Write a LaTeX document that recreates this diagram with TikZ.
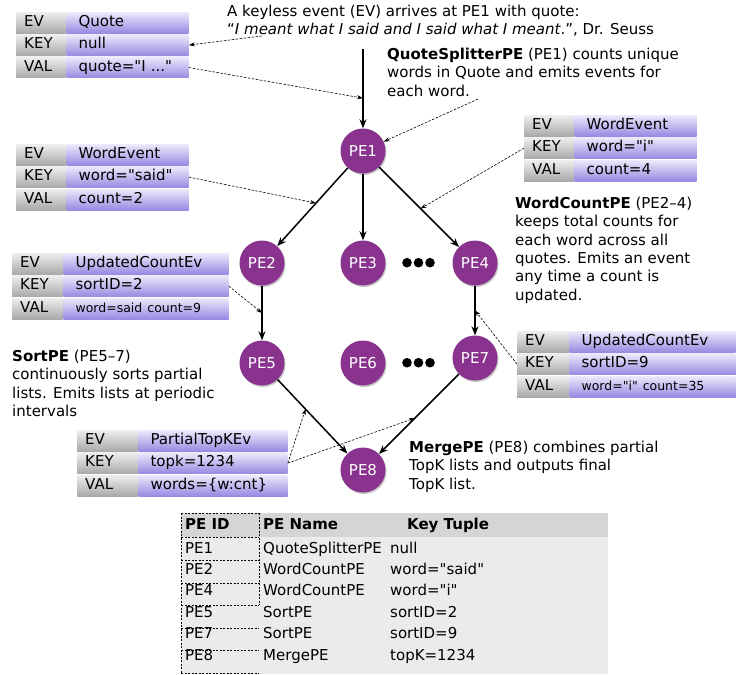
\documentclass[tikz,border=0pt]{standalone}
\usepackage{fontspec}
\setmainfont{DejaVu Sans}[Ligatures=TeXOff]
\usetikzlibrary{positioning,arrows.meta,shadows}

\definecolor{peviolet}{HTML}{8A338E}
\definecolor{labtop}{HTML}{EEEEEE}
\definecolor{labbot}{HTML}{A9A9A9}
\definecolor{valtop}{HTML}{ECE9FB}
\definecolor{valbot}{HTML}{968AE2}
\definecolor{tabhead}{HTML}{D5D5D5}
\definecolor{tabbody}{HTML}{EBEBEB}

\tikzset{
  pe/.style={circle, fill=peviolet, text=white, minimum size=45pt, inner sep=0pt,
    drop shadow={shadow xshift=1pt, shadow yshift=-1.5pt, opacity=0.45}},
  evlab/.style={anchor=north west, text width=#1, inner xsep=8pt, inner ysep=0pt,
    minimum height=21pt, text height=11pt, text depth=3.5pt,
    top color=labtop, bottom color=labbot},
  evval/.style={text width=#1, inner xsep=12pt, inner ysep=0pt,
    minimum height=21pt, text height=11pt, text depth=3.5pt,
    top color=valtop, bottom color=valbot},
  flow/.style={-{Stealth[length=9pt,width=7pt]}, line width=1.5pt},
  hint/.style={-{Stealth[length=6pt,width=4pt]}, line width=0.6pt, dash pattern=on 2.5pt off 1.5pt},
  note/.style={anchor=north west, align=left, inner sep=0pt},
  cell/.style={anchor=base west, inner sep=0pt},
  cellbox/.style={line width=0.6pt, dash pattern=on 2pt off 1.5pt}
}

\begin{document}
\begin{tikzpicture}[x=1pt,y=-1pt,font=\fontsize{15}{18.3}\selectfont]
  \useasboundingbox (0,0) rectangle (746,674);

  % processing elements
  \node[pe] (pe1) at (363,151) {PE1};
  \node[pe] (pe2) at (262,263) {PE2};
  \node[pe] (pe3) at (363,263) {PE3};
  \node[pe] (pe4) at (475,263) {PE4};
  \node[pe] (pe5) at (262,363) {PE5};
  \node[pe] (pe6) at (363,363) {PE6};
  \node[pe] (pe7) at (475,358) {PE7};
  \node[pe] (pe8) at (363,470) {PE8};
  \foreach \x in {407,418.5,430} {
    \fill (\x,262.7) circle (4.8pt);
    \fill (\x,362.7) circle (4.8pt);
  }

  \coordinate (src) at (363,49);
  \draw[flow] (src) -- coordinate[pos=0.62] (src-mid) (pe1);
  \draw[flow] (pe1) -- coordinate[pos=0.45] (e12) (pe2);
  \draw[flow] (pe1) -- (pe3);
  \draw[flow] (pe1) -- coordinate[pos=0.52] (e14) (pe4);
  \draw[flow] (pe2) -- coordinate[pos=0.5] (e25) (pe5);
  \draw[flow] (pe4) -- coordinate[pos=0.5] (e47) (pe7);
  \draw[flow] (pe5) -- coordinate[pos=0.4] (e58) (pe8);
  \draw[flow] (pe7) -- coordinate[pos=0.55] (e78) (pe8);

  % events
  \node[evlab=34pt] (quote-ev) at (16,12) {EV};
  \node[evval=98pt, right=0pt of quote-ev] (quote-evv) {Quote};
  \node[evlab=34pt, below=1pt of quote-ev] (quote-key) {KEY};
  \node[evval=98pt, right=0pt of quote-key] (quote-keyv) {null};
  \node[evlab=34pt, below=1pt of quote-key] (quote-val) {VAL};
  \node[evval=98pt, right=0pt of quote-val] (quote-valv) {quote="I ..."};

  \node[evlab=34pt] (wordr-ev) at (524,115) {EV};
  \node[evval=98pt, right=0pt of wordr-ev] (wordr-evv) {WordEvent};
  \node[evlab=34pt, below=1pt of wordr-ev] (wordr-key) {KEY};
  \node[evval=98pt, right=0pt of wordr-key] (wordr-keyv) {word="i"};
  \node[evlab=34pt, below=1pt of wordr-key] (wordr-val) {VAL};
  \node[evval=98pt, right=0pt of wordr-val] (wordr-valv) {count=4};

  \node[evlab=34pt] (wordl-ev) at (16,144) {EV};
  \node[evval=98pt, right=0pt of wordl-ev] (wordl-evv) {WordEvent};
  \node[evlab=34pt, below=1pt of wordl-ev] (wordl-key) {KEY};
  \node[evval=98pt, right=0pt of wordl-key] (wordl-keyv) {word="said"};
  \node[evlab=34pt, below=1pt of wordl-key] (wordl-val) {VAL};
  \node[evval=98pt, right=0pt of wordl-val] (wordl-valv) {count=2};

  \node[evlab=35pt] (updl-ev) at (12,253) {EV};
  \node[evval=141pt, right=0pt of updl-ev] (updl-evv) {UpdatedCountEv};
  \node[evlab=35pt, below=1pt of updl-ev] (updl-key) {KEY};
  \node[evval=141pt, right=0pt of updl-key] (updl-keyv) {sortID=2};
  \node[evlab=35pt, below=1pt of updl-key] (updl-val) {VAL};
  \node[evval=141pt, right=0pt of updl-val] (updl-valv) {\fontsize{12.5}{14}\selectfont word=said count=9};

  \node[evlab=36pt] (updr-ev) at (517,331) {EV};
  \node[evval=142pt, right=0pt of updr-ev] (updr-evv) {UpdatedCountEv};
  \node[evlab=36pt, below=1pt of updr-ev] (updr-key) {KEY};
  \node[evval=142pt, right=0pt of updr-key] (updr-keyv) {sortID=9};
  \node[evlab=36pt, below=1pt of updr-key] (updr-val) {VAL};
  \node[evval=142pt, right=0pt of updr-val] (updr-valv) {\fontsize{12.5}{14}\selectfont word="i" count=35};

  \node[evlab=45pt] (topk-ev) at (77,430) {EV};
  \node[evval=125pt, right=0pt of topk-ev] (topk-evv) {PartialTopKEv};
  \node[evlab=45pt, below=1pt of topk-ev] (topk-key) {KEY};
  \node[evval=125pt, right=0pt of topk-key] (topk-keyv) {topk=1234};
  \node[evlab=45pt, below=1pt of topk-key] (topk-val) {VAL};
  \node[evval=125pt, right=0pt of topk-val] (topk-valv) {words=\{w:cnt\}};

  % notes
  \node[note] (intro) at (227,5) {A keyless event (EV) arrives at PE1 with quote:\\
    “\textit{I meant what I said and I said what I meant}.”, Dr. Seuss};
  \node[note] (splitnote) at (387,48) {\textbf{QuoteSplitterPE} (PE1) counts unique\\
    words in Quote and emits events for\\each word.};
  \node[note] (countnote) at (515,197) {\textbf{WordCountPE} (PE2–4)\\keeps total counts for\\
    each word across all\\quotes. Emits an event\\any time a count is\\updated.};
  \node[note] (sortnote) at (12,350) {\textbf{SortPE} (PE5–7)\\continuously sorts partial\\
    lists. Emits lists at periodic\\intervals};
  \node[note] (mergenote) at (409,441) {\textbf{MergePE} (PE8) combines partial\\
    TopK lists and outputs final\\TopK list.};

  \coordinate (quotetip) at (262,36);
  \coordinate (splittip) at (478,99);
  \draw[hint] (quotetip) -- (quote-keyv.east);
  \draw[hint] (quote-valv.east) -- (src-mid);
  \draw[hint] (splittip) -- (pe1);
  \draw[hint] (wordr-key.west) -- (e14);
  \draw[hint] (wordl-keyv.east) -- (e12);
  \draw[hint] (updl-keyv.east) -- (e25);
  \draw[hint] (updr-key.west) -- (e47);
  \draw[hint] (topk-keyv.east) -- (e58);
  \draw[hint] (topk-keyv.east) -- (e78);

  % lookup table
  \fill[tabbody] (181,513) rectangle (608,674);
  \fill[tabhead] (181,513) rectangle (608,537);
  \node[cell] (th-id) at (185,529) {\textbf{PE ID}};
  \node[cell] (th-name) at (263,529) {\textbf{PE Name}};
  \node[cell] (th-key) at (407,529) {\textbf{Key Tuple}};
  \foreach \id/\name/\tuple [count=\r] in {PE1/QuoteSplitterPE/null, PE2/WordCountPE/{word="said"},
      PE4/WordCountPE/{word="i"}, PE5/SortPE/{sortID=2}, PE7/SortPE/{sortID=9}, PE8/MergePE/{topK=1234}} {
    \node[cell] (id-\r) at (185,531.6+21.4*\r) {\id};
    \node[cell] (name-\r) at (263,531.6+21.4*\r) {\name};
    \node[cell] (tuple-\r) at (390,531.6+21.4*\r) {\tuple};
  }
  \draw[cellbox] (181,513) -- (181,673);
  \draw[cellbox] (259,513) -- (259,605);
  \foreach \y in {513,537,560,583,605,628,650,673}
    \draw[cellbox] (181,\y) -- (259,\y);
\end{tikzpicture}
\end{document}
